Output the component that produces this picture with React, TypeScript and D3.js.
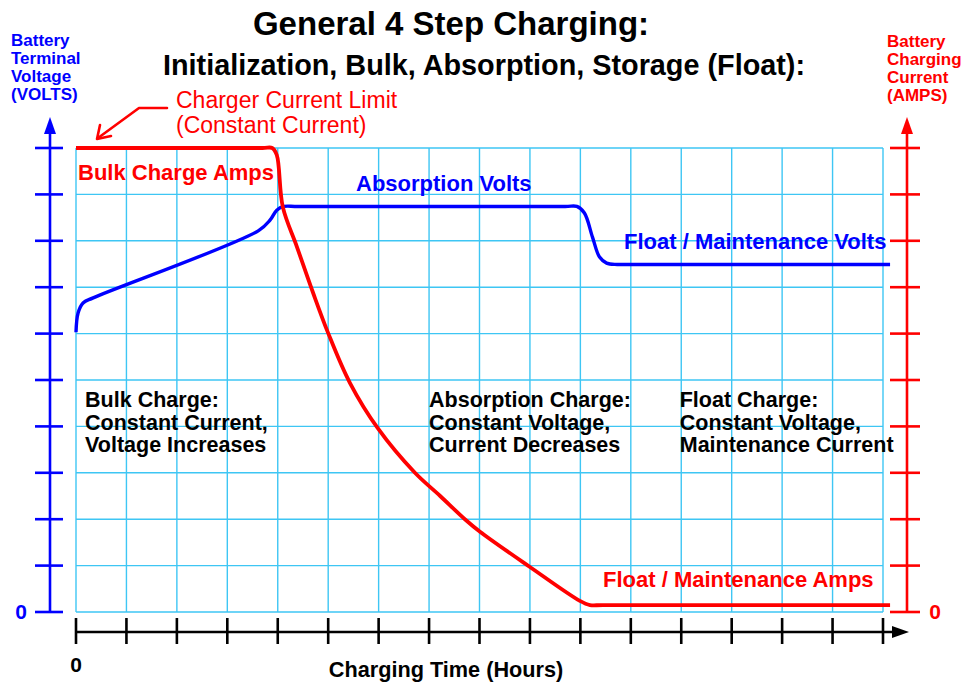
import React from "react";
import * as d3 from "d3";

const W = 967;
const H = 683;

// Grid: 16 time divisions, 10 value divisions
const xTicks = d3.range(0, 17);
const yTicks = d3.range(0, 11);

// Battery terminal voltage (grid units) vs time (grid units)
const voltTime = [0, 0.04, 0.14, 0.34, 3.62, 3.85, 3.98, 4.12, 4.4, 9.7, 9.93, 10.08, 10.24, 10.38, 10.52, 10.73, 11.0, 16.14];
const voltVals = [6.03, 6.44, 6.66, 6.77, 8.22, 8.45, 8.66, 8.74, 8.74, 8.74, 8.74, 8.6, 8.08, 7.65, 7.52, 7.49, 7.49, 7.49];

// Charging current (grid units) vs time (grid units)
const ampTime = [0, 3.7, 3.89, 3.98, 4.1, 4.38, 4.7, 5.0, 5.43, 5.99, 6.72, 7.22, 7.71, 8.01, 9.0, 9.99, 10.19, 10.45, 16.14];
const ampVals = [10, 10, 10, 9.85, 8.73, 7.87, 6.88, 6.01, 4.94, 3.95, 3.0, 2.5, 2.0, 1.73, 0.97, 0.24, 0.15, 0.15, 0.15];

const titleLines = ["General 4 Step Charging:", "Initialization, Bulk, Absorption, Storage (Float):"];
const leftAxisLabel = ["Battery", "Terminal", "Voltage", "(VOLTS)"];
const rightAxisLabel = ["Battery", "Charging", "Current", "(AMPS)"];
const xAxisTitle = "Charging Time (Hours)";
const limitNote = ["Charger Current Limit", "(Constant Current)"];
const phaseNotes = [
  { t: 0.18, lines: ["Bulk Charge:", "Constant Current,", "Voltage Increases"] },
  { t: 7.0, lines: ["Absorption Charge:", "Constant Voltage,", "Current Decreases"] },
  { t: 11.97, lines: ["Float Charge:", "Constant Voltage,", "Maintenance Current"] },
];

const FONT = "'Liberation Sans', Arial, Helvetica, sans-serif";
const BLUE = "#0000ff";
const RED = "#ff0000";
const GRID = "#3ec6f4";

export default function App() {
  const x = d3.scaleLinear().domain([0, 16]).range([76, 883]);
  const y = d3.scaleLinear().domain([0, 10]).range([612, 148]);

  const line = d3
    .line<[number, number]>()
    .x((d) => x(d[0]))
    .y((d) => y(d[1]))
    .curve(d3.curveCatmullRom.alpha(0.5));

  const voltPts = voltTime.map((t, i) => [t, voltVals[i]] as [number, number]);
  const ampPts = ampTime.map((t, i) => [t, ampVals[i]] as [number, number]);

  const leftX = 50;
  const rightX = 907;
  const axisY = 632;

  return (
    <svg
      width={W}
      height={H}
      viewBox={`0 0 ${W} ${H}`}
      style={{ position: "absolute", left: 0, top: 0, background: "#fff" }}
      fontFamily={FONT}
    >
      <rect width={W} height={H} fill="#fff" />
      {/* Grid */}
      <g stroke={GRID} strokeWidth={1.4}>
        {xTicks.map((t) => (
          <line key={"gx" + t} x1={x(t)} x2={x(t)} y1={y(0)} y2={y(10)} />
        ))}
        {yTicks.map((t) => (
          <line key={"gy" + t} x1={x(0)} x2={x(16)} y1={y(t)} y2={y(t)} />
        ))}
      </g>

      {/* Title */}
      <text x={451} y={35} textAnchor="middle" fontWeight="bold" fontSize={33} fill="#000">
        {titleLines[0]}
      </text>
      <text x={484} y={75} textAnchor="middle" fontWeight="bold" fontSize={28.8} fill="#000">
        {titleLines[1]}
      </text>

      {/* Left axis */}
      <g stroke={BLUE} strokeWidth={2.6}>
        <line x1={leftX} x2={leftX} y1={130} y2={y(0)} />
        {yTicks.map((t) => (
          <line key={"lt" + t} x1={35} x2={63} y1={y(t)} y2={y(t)} />
        ))}
      </g>
      <path d={`M${leftX},117 L${leftX - 6},134 L${leftX + 6},134 Z`} fill={BLUE} />
      {leftAxisLabel.map((s, i) => (
        <text key={s} x={11} y={46 + i * 18} fontWeight="bold" fontSize={17} fill={BLUE}>
          {s}
        </text>
      ))}
      <text x={21} y={619} textAnchor="middle" fontWeight="bold" fontSize={21} fill={BLUE}>
        0
      </text>

      {/* Right axis */}
      <g stroke={RED} strokeWidth={2.6}>
        <line x1={rightX} x2={rightX} y1={130} y2={y(0)} />
        {yTicks.map((t) => (
          <line key={"rt" + t} x1={890} x2={920} y1={y(t)} y2={y(t)} />
        ))}
      </g>
      <path d={`M${rightX},117 L${rightX - 6},134 L${rightX + 6},134 Z`} fill={RED} />
      {rightAxisLabel.map((s, i) => (
        <text key={s} x={887} y={47 + i * 18} fontWeight="bold" fontSize={17} fill={RED}>
          {s}
        </text>
      ))}
      <text x={935} y={619} textAnchor="middle" fontWeight="bold" fontSize={21} fill={RED}>
        0
      </text>

      {/* Bottom axis */}
      <g stroke="#000" strokeWidth={2.6}>
        <line x1={x(0)} x2={895} y1={axisY} y2={axisY} />
        {xTicks.map((t) => (
          <line key={"bt" + t} x1={x(t)} x2={x(t)} y1={618} y2={644} />
        ))}
      </g>
      <path d={`M909,${axisY} L892,${axisY - 6} L892,${axisY + 6} Z`} fill="#000" />
      <text x={x(0)} y={672} textAnchor="middle" fontWeight="bold" fontSize={21} fill="#000">
        0
      </text>
      <text x={446} y={677} textAnchor="middle" fontWeight="bold" fontSize={21.7} fill="#000">
        {xAxisTitle}
      </text>

      {/* Curves */}
      <path d={line(voltPts) || ""} fill="none" stroke={BLUE} strokeWidth={3.4} strokeLinejoin="round" />
      <path d={line(ampPts) || ""} fill="none" stroke={RED} strokeWidth={3.8} strokeLinejoin="round" />

      {/* Charger current limit note */}
      {limitNote.map((s, i) => (
        <text key={s} x={176} y={108 + i * 25} fontSize={23} fill={RED}>
          {s}
        </text>
      ))}
      <g stroke={RED} strokeWidth={2.6} fill="none" strokeLinecap="round" strokeLinejoin="round">
        <polyline points="167,108 139,108 98,138" />
        <polyline points="100,125 97,139 111,136" />
      </g>

      {/* Series labels */}
      <g fontWeight="bold" fontSize={22}>
        <text x={78} y={180} fill={RED}>Bulk Charge Amps</text>
        <text x={356} y={191} fill={BLUE}>Absorption Volts</text>
        <text x={624} y={249} fill={BLUE}>Float / Maintenance Volts</text>
        <text x={603} y={587} fill={RED}>Float / Maintenance Amps</text>
      </g>

      {/* Phase notes */}
      <g fontWeight="bold" fontSize={21.5} fill="#000">
        {phaseNotes.map((n) =>
          n.lines.map((s, i) => (
            <text key={n.t + s} x={x(n.t)} y={407 + i * 22.5}>
              {s}
            </text>
          ))
        )}
      </g>
    </svg>
  );
}
